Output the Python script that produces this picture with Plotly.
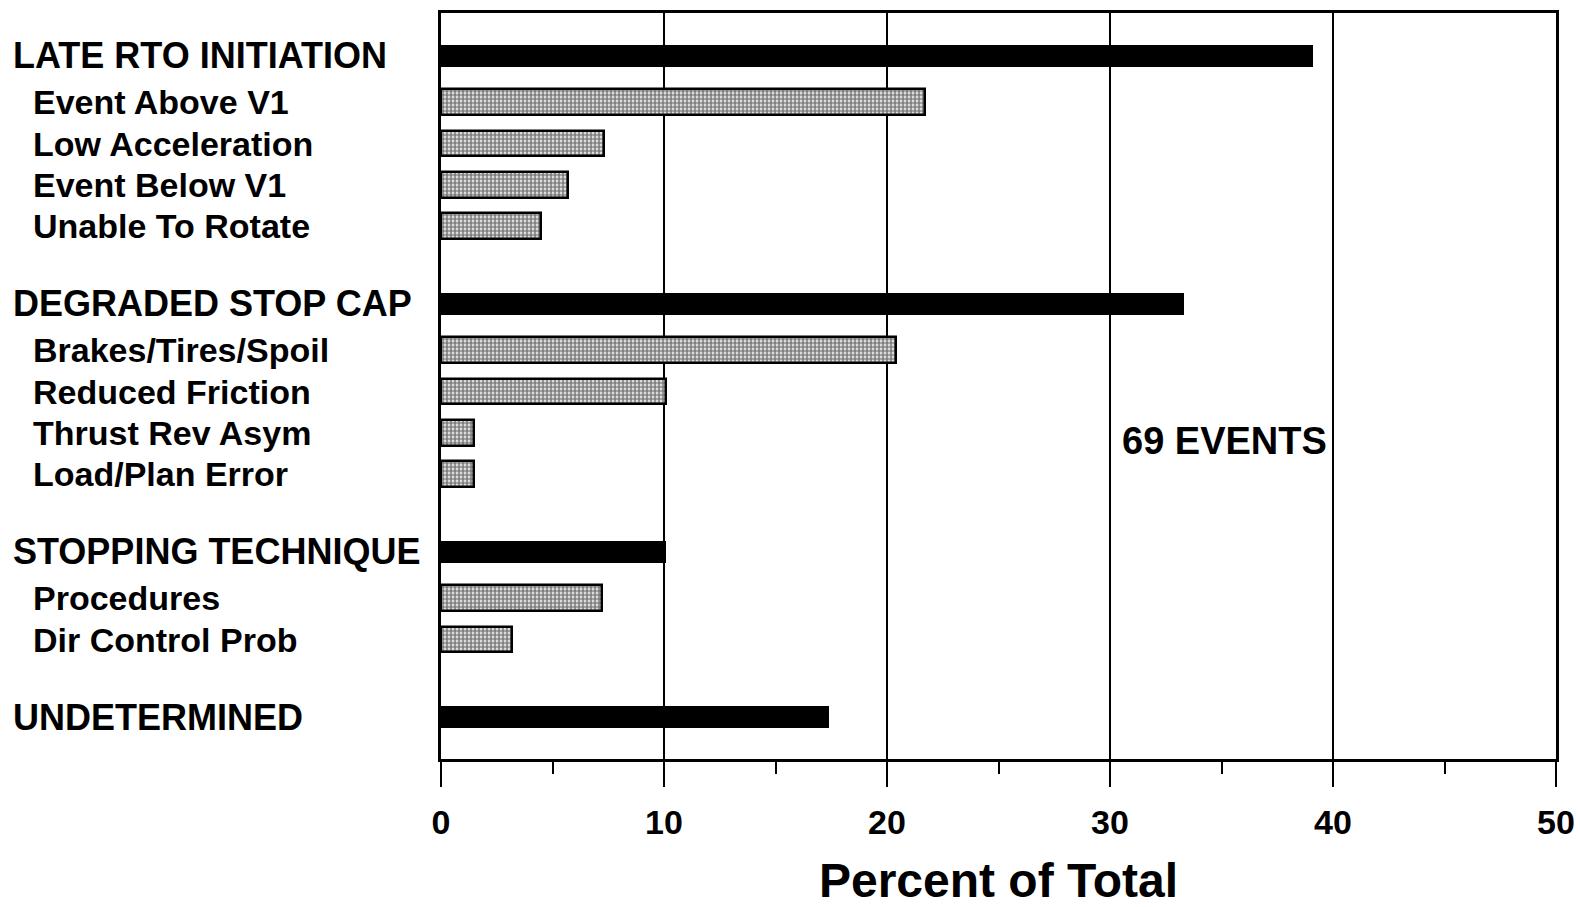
import plotly.graph_objects as go

# ---------------- data ----------------
group_labels = ["LATE RTO INITIATION", "DEGRADED STOP CAP", "STOPPING TECHNIQUE", "UNDETERMINED"]
group_values = [39.1, 33.3, 10.1, 17.4]

late_labels = ["Event Above V1", "Low Acceleration", "Event Below V1", "Unable To Rotate"]
late_values = [21.7, 7.3, 5.7, 4.5]

degraded_labels = ["Brakes/Tires/Spoil", "Reduced Friction", "Thrust Rev Asym", "Load/Plan Error"]
degraded_values = [20.4, 10.1, 1.5, 1.5]

stopping_labels = ["Procedures", "Dir Control Prob"]
stopping_values = [7.2, 3.2]

undetermined_labels = []
undetermined_values = []

x_ticks = [0, 10, 20, 30, 40, 50]
x_title = "Percent of Total"
note_text = "69 EVENTS"

# ---------------- layout helpers ----------------
W, H = 1580, 907
# plot-area edges in page pixels
L_PX, R_PX, T_PX, B_PX = 441, 1556, 13, 759
FONT = "Liberation Sans, Arial, Helvetica, sans-serif"

sub_groups = [
    (late_labels, late_values),
    (degraded_labels, degraded_values),
    (stopping_labels, stopping_values),
    (undetermined_labels, undetermined_values),
]

head_y, sub_y, sub_lab, sub_val = [], [], [], []
slot = 0
for (labs, vals) in sub_groups:
    head_y.append(slot - 0.12)
    for i, (lb, v) in enumerate(zip(labs, vals)):
        sub_y.append(slot + 1 + i)
        sub_lab.append(lb)
        sub_val.append(v)
    slot += len(labs) + 2

fig = go.Figure()
fig.add_trace(go.Bar(
    orientation="h", x=group_values, y=head_y, width=0.53,
    marker=dict(color="black", line=dict(color="black", width=0)),
    showlegend=False, hoverinfo="skip",
))
fig.add_trace(go.Bar(
    orientation="h", x=sub_val, y=sub_y, width=0.62,
    marker=dict(color="white", line=dict(color="black", width=2.5),
                pattern=dict(shape=".", fgcolor="black", bgcolor="white",
                             size=4, solidity=0.7)),
    showlegend=False, hoverinfo="skip",
))

plot_w = R_PX - L_PX
def paper_x(px):
    return (px - L_PX) / plot_w

annotations = []
for lb, y in zip(group_labels, head_y):
    annotations.append(dict(x=paper_x(11), xref="paper", y=y, yref="y", text=lb,
                            showarrow=False, xanchor="left", yanchor="middle",
                            font=dict(family=FONT, size=36, color="black", weight="bold")))
for lb, y in zip(sub_lab, sub_y):
    annotations.append(dict(x=paper_x(31), xref="paper", y=y, yref="y", text=lb,
                            showarrow=False, xanchor="left", yanchor="middle",
                            font=dict(family=FONT, size=34, color="black", weight="bold")))
annotations.append(dict(x=30.45, xref="x", y=9.2, yref="y", text=note_text,
                        showarrow=False, xanchor="left", yanchor="middle",
                        font=dict(family=FONT, size=38, color="black", weight="bold")))

fig.update_layout(
    width=W, height=H,
    margin=dict(l=L_PX, r=W - R_PX, t=T_PX, b=H - B_PX, pad=0, autoexpand=False),
    paper_bgcolor="white", plot_bgcolor="white",
    bargap=0, barmode="overlay",
    annotations=annotations,
    font=dict(family=FONT, color="black"),
)
fig.update_xaxes(
    range=[0, 50], tickvals=x_ticks, ticktext=[str(t) for t in x_ticks],
    ticks="outside", ticklen=25, tickwidth=2, tickcolor="black",
    tickfont=dict(family=FONT, size=34, color="black", weight="bold"),
    ticklabelstandoff=6,
    showgrid=True, gridcolor="black", gridwidth=1.5,
    showline=True, linecolor="black", linewidth=3, mirror=True,
    zeroline=False, automargin=False,
    minor=dict(dtick=5, tick0=0, ticks="outside", ticklen=12, tickwidth=2,
               tickcolor="black", showgrid=False),
    title=dict(text=x_title, standoff=27,
               font=dict(family=FONT, size=48, color="black", weight="bold")),
)
fig.update_yaxes(
    range=[16.89, -1.157], showticklabels=False, ticks="",
    showgrid=False, zeroline=False, automargin=False,
    showline=True, linecolor="black", linewidth=3, mirror=True,
)

fig.write_html(
    "out.html",
    config={"displayModeBar": False},
    post_script="document.body.style.margin='0px';document.body.style.overflow='hidden';",
)
